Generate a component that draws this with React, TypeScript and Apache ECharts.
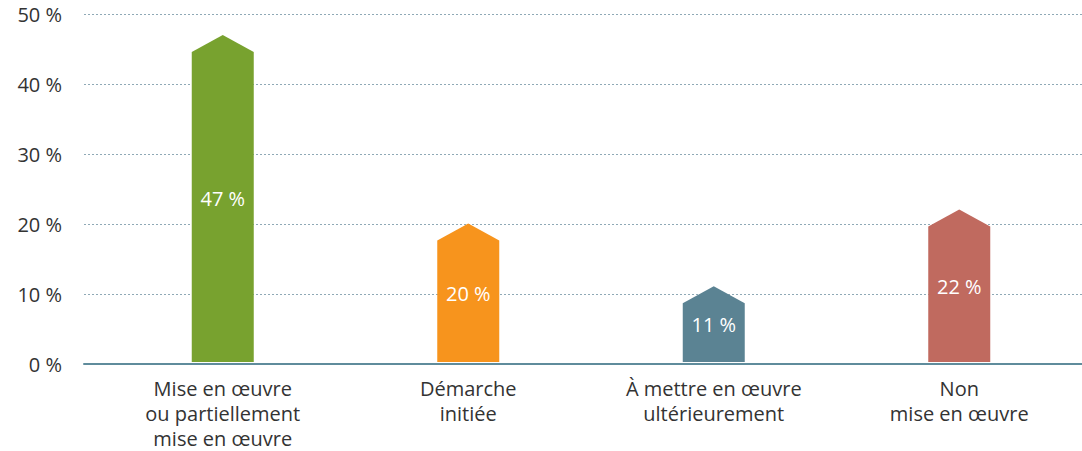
import React, { useEffect, useRef } from "react";
import * as echarts from "echarts";

const categories = [
  "Mise en œuvre\nou partiellement\nmise en œuvre",
  "Démarche\ninitiée",
  "À mettre en œuvre\nultérieurement",
  "Non\nmise en œuvre",
];
const values = [47, 20, 11, 22];
const colors = ["#78a22f", "#f7941d", "#5b8393", "#c06a5f"];
const yTicks = { min: 0, max: 50, interval: 10 };

export default function App() {
  const ref = useRef<HTMLDivElement>(null);
  useEffect(() => {
    if (!ref.current) return;
    const chart = echarts.init(ref.current, undefined, { renderer: "svg" });
    const font = "'Open Sans', 'Noto Sans', sans-serif";
    chart.setOption({
      animation: false,
      grid: [
        { left: 84, right: 0, top: 14, bottom: 87 },
        { left: 100, right: 0, top: 14, bottom: 87 },
      ],
      xAxis: [
        {
          type: "category",
          gridIndex: 0,
          data: categories,
          axisTick: { show: false },
          axisLine: { show: true, lineStyle: { color: "#5f8c9c", width: 2 } },
          axisLabel: { show: false },
        },
        {
          type: "category",
          gridIndex: 1,
          data: categories,
          axisTick: { show: false },
          axisLine: { show: false },
          axisLabel: {
            color: "#333",
            fontSize: 20,
            lineHeight: 25,
            fontFamily: font,
            margin: 13,
            interval: 0,
          },
        },
      ],
      yAxis: [
        {
          type: "value",
          gridIndex: 0,
          min: yTicks.min,
          max: yTicks.max,
          interval: yTicks.interval,
          axisLine: { show: false },
          axisTick: { show: false },
          axisLabel: {
            color: "#333",
            fontSize: 20,
            fontFamily: font,
            margin: 22,
            formatter: "{value} %",
          },
          splitLine: {
            lineStyle: { color: "#8fa9b6", type: [2, 2], width: 1 },
          },
        },
        {
          type: "value",
          gridIndex: 1,
          min: yTicks.min,
          max: yTicks.max,
          interval: yTicks.interval,
          axisLine: { show: false },
          axisTick: { show: false },
          axisLabel: { show: false },
          splitLine: { show: false },
        },
      ],
      series: [
        {
          type: "custom",
          xAxisIndex: 1,
          yAxisIndex: 1,
          data: values.map((v, i) => [i, v]),
          renderItem: (params: any, api: any) => {
            const idx = api.value(0);
            const val = api.value(1);
            const top = api.coord([idx, val]);
            const base = api.coord([idx, 0]);
            const mid = api.coord([idx, val / 2]);
            const w = 62;
            const sh = 17;
            const x = top[0];
            return {
              type: "group",
              children: [
                {
                  type: "polygon",
                  shape: {
                    points: [
                      [x - w / 2, base[1] - 1],
                      [x - w / 2, top[1] + sh],
                      [x, top[1]],
                      [x + w / 2, top[1] + sh],
                      [x + w / 2, base[1] - 1],
                    ],
                  },
                  style: { fill: colors[idx] },
                },
                {
                  type: "text",
                  x: x,
                  y: mid[1],
                  style: {
                    text: val + " %",
                    fill: "#fff",
                    fontSize: 20,
                    fontFamily: font,
                    align: "center",
                    verticalAlign: "middle",
                  },
                },
              ],
            };
          },
        },
      ],
    });
    return () => chart.dispose();
  }, []);
  return (
    <div
      ref={ref}
      style={{ position: "absolute", left: 0, top: 0, width: 1082, height: 451 }}
    />
  );
}
